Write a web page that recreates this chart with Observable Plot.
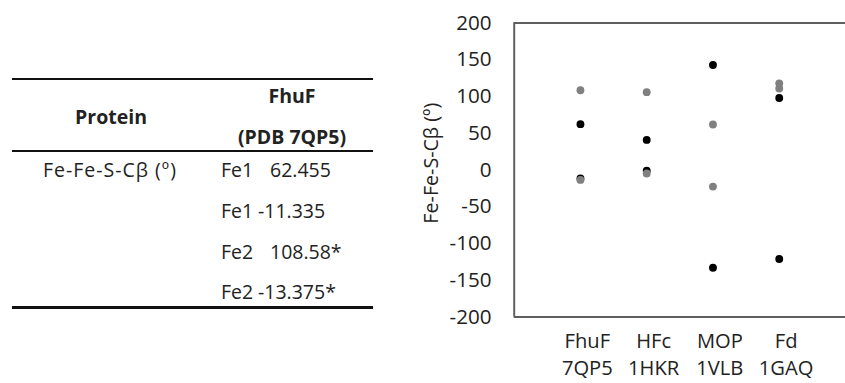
<!DOCTYPE html>
<html>
<head>
<meta charset="utf-8">
<script src="https://cdn.jsdelivr.net/npm/d3@7"></script>
<script src="https://cdn.jsdelivr.net/npm/@observablehq/plot@0.6"></script>
<style>
  html, body { margin: 0; padding: 0; background: #fff; }
  body { width: 845px; height: 383px; overflow: hidden; position: relative; font-family: "Open Sans", sans-serif; color: #222; }
  #table { position: absolute; left: 0; top: 0; width: 380px; height: 383px; }
  #table .rule { position: absolute; left: 12px; width: 361px; background: #111; }
  #table .cell { position: absolute; font-size: 19.5px; white-space: pre; transform: translateY(-50%); line-height: 1; }
  #table .hdr { font-weight: bold; transform: translate(-50%, -50%); }
  #table .rowlabel { letter-spacing: 1px; }
  #chart { position: absolute; left: 380px; top: 0; }
</style>
</head>
<body>
<div id="table"></div>
<div id="chart"></div>
<script>
// ---- data ----
const tableHeaderProtein = "Protein";
const tableHeaderColumn = ["FhuF", "(PDB 7QP5)"];
const tableRowLabel = "Fe-Fe-S-Cβ (º)";
const tableSites = ["Fe1", "Fe1", "Fe2", "Fe2"];
const tableValues = ["62.455", "-11.335", "108.58*", "-13.375*"];

const categories = ["FhuF\n7QP5", "HFc\n1HKR", "MOP\n1VLB", "Fd\n1GAQ"];
const fe1Values = [[62.455, -11.335], [41, -1], [143, -133], [98, -121]];
const fe2Values = [[108.58, -13.375], [106, -4.7], [62, -22.5], [118, 111]];
const yTicks = [-200, -150, -100, -50, 0, 50, 100, 150, 200];
const yLabel = "Fe-Fe-S-Cβ (º)";

// ---- table ----
const t = document.getElementById("table");
function rule(top, h) { const d = document.createElement("div"); d.className = "rule"; d.style.top = top + "px"; d.style.height = h + "px"; t.appendChild(d); }
function cell(txt, x, y, cls) { const d = document.createElement("div"); d.className = "cell" + (cls ? " " + cls : ""); d.textContent = txt; d.style.left = x + "px"; d.style.top = y + "px"; t.appendChild(d); }
rule(78, 2);
rule(150, 2);
rule(306, 3);
cell(tableHeaderProtein, 111, 117, "hdr");
cell(tableHeaderColumn[0], 292, 96, "hdr");
cell(tableHeaderColumn[1], 292, 137, "hdr");
cell(tableRowLabel, 43, 170, "rowlabel");
const rowY = [170, 211, 252, 292];
tableSites.forEach((s, i) => {
  cell(s, 221, rowY[i]);
  const neg = tableValues[i].startsWith("-");
  const big = tableValues[i].length > 7 && !neg;
  cell(tableValues[i], neg ? 258 : (big ? 274 : 270), rowY[i]);
});

// ---- chart data ----
const rows = [];
categories.forEach((c, i) => {
  fe1Values[i].forEach(v => rows.push({x: i + 1, y: v, site: "Fe1"}));
  fe2Values[i].forEach(v => rows.push({x: i + 1, y: v, site: "Fe2"}));
});
rows.sort((a, b) => (a.site === "Fe1" ? 0 : 1) - (b.site === "Fe1" ? 0 : 1));

const chart = Plot.plot({
  width: 473,
  height: 383,
  marginLeft: 136,
  marginRight: 0,
  marginTop: 23,
  marginBottom: 61,
  style: {fontFamily: "'Open Sans', sans-serif", fontSize: "20px", color: "#222", background: "transparent", overflow: "visible"},
  x: {domain: [0, 5], label: null},
  y: {domain: [-200, 200], label: null},
  marks: [
    Plot.axisX({ticks: [1, 2, 3, 4], tickFormat: d => categories[d - 1], tickSize: 0, tickPadding: 12, dx: 7, lineHeight: 1.33, fontSize: 20.5, label: null}),
    Plot.axisY({ticks: yTicks, tickFormat: d => String(d), tickSize: 0, tickPadding: 23, fontSize: 21, label: null}),
    Plot.ruleX([0], {stroke: "#5f5f5f", strokeWidth: 2}),
    Plot.ruleY([-200, 200], {stroke: "#5f5f5f", strokeWidth: 2}),
    Plot.text([yLabel], {frameAnchor: "left", textAnchor: "middle", dx: -84, dy: -7, rotate: -90, fontSize: 20, fill: "#222"}),
    Plot.dot(rows, {x: "x", y: "y", r: 4, fill: d => d.site === "Fe1" ? "#000" : "#808080", stroke: null})
  ]
});
document.getElementById("chart").appendChild(chart);
</script>
</body>
</html>
